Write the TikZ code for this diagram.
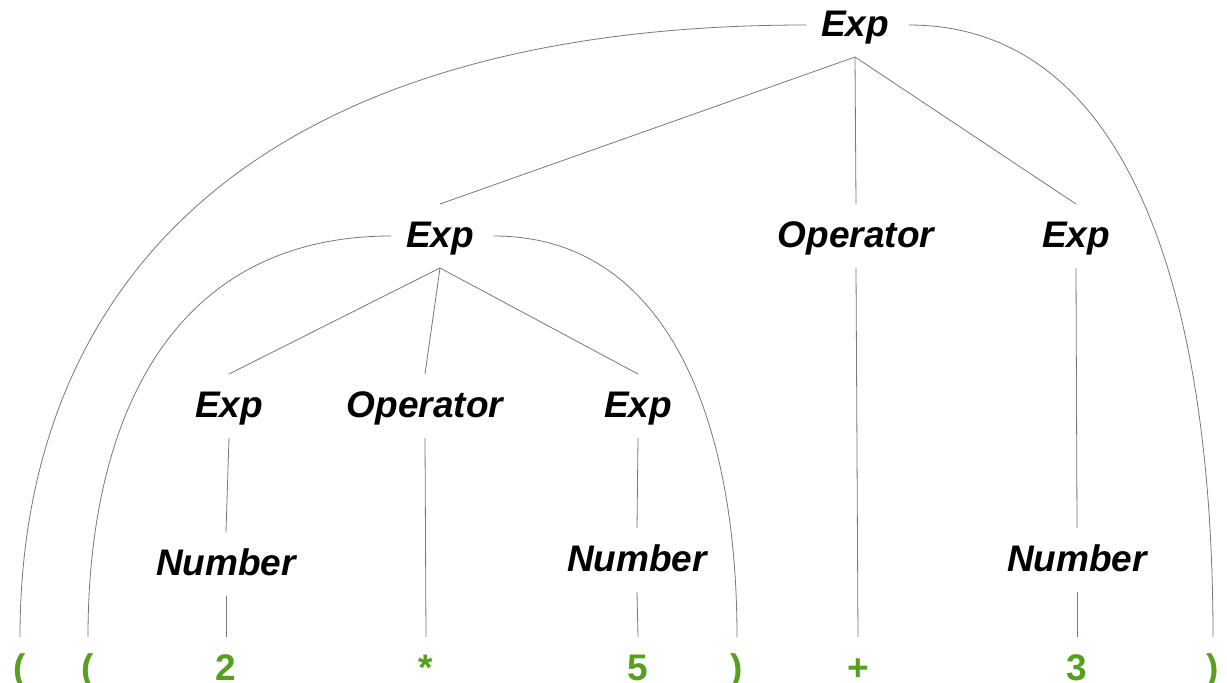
\documentclass[tikz,border=0pt]{standalone}
\usepackage{fontspec}
\setmainfont{Liberation Sans}
\definecolor{tokgreen}{RGB}{87,160,30}
\definecolor{edgegray}{RGB}{120,120,120}
\begin{document}
\begin{tikzpicture}[x=1pt,y=-1pt,
  sym/.style={anchor=base,inner sep=0pt,outer sep=15pt,text height=28pt,text depth=6pt,
    font=\fontsize{37}{41}\selectfont\bfseries\itshape},
  tok/.style={anchor=base,inner sep=0pt,outer sep=15pt,text height=28pt,text depth=6pt,
    font=\fontsize{37}{41}\selectfont\bfseries,text=tokgreen},
  edge/.style={draw=edgegray,line width=0.8pt}]
\useasboundingbox (0,0) rectangle (1227,683);

% nonterminals
\node[sym] (e0) at (855,36) {Exp};
\node[sym] (e1) at (440,247) {Exp};
\node[sym] (o1) at (856,247) {Operator};
\node[sym] (e2) at (1076,247) {Exp};
\node[sym] (e11) at (229,417) {Exp};
\node[sym] (o11) at (425,417) {Operator};
\node[sym] (e12) at (638,417) {Exp};
\node[sym] (n11) at (226,575) {Number};
\node[sym] (n12) at (637,571) {Number};
\node[sym] (n2) at (1077,571) {Number};

% terminals
\node[tok] (lp0) at (20,680) {(};
\node[tok] (lp1) at (88,680) {(};
\node[tok] (t2) at (226,680) {2};
\node[tok] (tm) at (426,680) {*};
\node[tok] (t5) at (638,680) {5};
\node[tok] (rp1) at (737,680) {)};
\node[tok] (tp) at (858,680) {+};
\node[tok] (t3) at (1077,680) {3};
\node[tok] (rp0) at (1213,680) {)};

% straight edges
\draw[edge] (e0.south) -- (e1.north);
\draw[edge] (e0.south) -- (o1.north);
\draw[edge] (e0.south) -- (e2.north);
\draw[edge] (e1.south) -- (e11.north);
\draw[edge] (e1.south) -- (o11.north);
\draw[edge] (e1.south) -- (e12.north);
\draw[edge] (e11.south) -- (n11.north);
\draw[edge] (n11.south) -- (t2.north);
\draw[edge] (o11.south) -- (tm.north);
\draw[edge] (e12.south) -- (n12.north);
\draw[edge] (n12.south) -- (t5.north);
\draw[edge] (o1.south) -- (tp.north);
\draw[edge] (e2.south) -- (n2.north);
\draw[edge] (n2.south) -- (t3.north);

% curved edges to the parentheses
\draw[edge] (e0.west) .. controls +(-566,0) and +(0,-343) .. (lp0.north);
\draw[edge] ([xshift=5pt]e0.east) .. controls +(220,0) and +(0,-343) .. (rp0.north);
\draw[edge] (e1.west) .. controls +(-216,0) and +(0,-224) .. (lp1.north);
\draw[edge] ([xshift=5pt]e1.east) .. controls +(170,0) and +(0,-224) .. (rp1.north);
\end{tikzpicture}
\end{document}
